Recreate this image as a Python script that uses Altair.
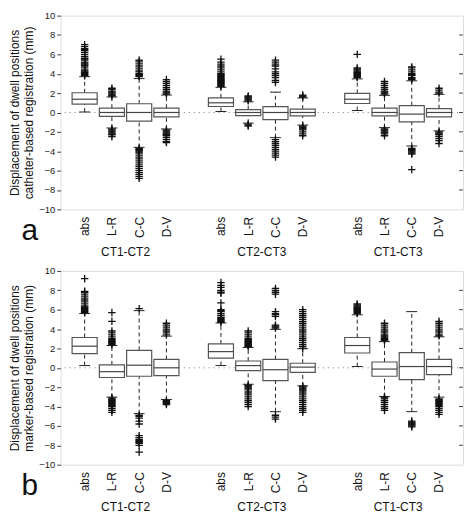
import altair as alt
import pandas as pd

# ---------------- data ----------------
positions = [1, 2, 3, 4, 6, 7, 8, 9, 11, 12, 13, 14]
box_labels = ["abs", "L-R", "C-C", "D-V"] * 3
groups = ["CT1-CT2", "CT2-CT3", "CT1-CT3"]
group_centers = [2.5, 7.5, 12.5]
y_ticks = [-10, -8, -6, -4, -2, 0, 2, 4, 6, 8, 10]

# panel a: catheter-based registration
a_q1 = [0.87, -0.40, -0.90, -0.45, 0.62, -0.33, -0.73, -0.35, 0.93, -0.35, -0.96, -0.46]
a_med = [1.37, 0.00, 0.00, 0.00, 1.00, 0.00, 0.00, 0.00, 1.37, 0.00, -0.17, 0.00]
a_q3 = [2.04, 0.45, 0.90, 0.45, 1.50, 0.30, 0.60, 0.35, 1.97, 0.45, 0.70, 0.40]
a_lo = [0.05, -1.60, -3.60, -1.70, 0.10, -1.10, -2.60, -1.30, 0.20, -1.56, -3.46, -1.90]
a_hi = [3.70, 1.60, 3.50, 1.80, 2.60, 1.10, 2.10, 1.50, 3.47, 1.77, 3.27, 1.87]
a_out = [
    [3.8, 3.9, 4.0, 4.1, 4.2, 4.3, 4.4, 4.6, 4.8, 4.9, 5.0, 5.1, 5.2, 5.4, 5.5, 5.6, 5.8, 6.0, 6.2, 6.4, 6.5, 6.6, 6.8, 7.0],
    [1.7, 1.8, 1.9, 2.0, 2.1, 2.2, 2.4, 2.5, -1.7, -1.8, -1.9, -2.0, -2.1, -2.2, -2.3, -2.5],
    [3.7, 3.8, 3.9, 4.0, 4.2, 4.3, 4.5, 4.7, 4.9, 5.1, 5.3, 5.4,
     -3.7, -3.8, -3.9, -4.0, -4.1, -4.2, -4.4, -4.6, -4.8, -5.0, -5.2, -5.4, -5.6, -5.8, -6.0, -6.2, -6.4, -6.6, -6.8],
    [1.9, 2.0, 2.1, 2.2, 2.4, 2.6, 2.8, 3.0, 3.2, 3.4, -1.8, -1.9, -2.0, -2.1, -2.2, -2.3, -2.4, -2.6, -2.8, -3.0, -3.1],
    [2.7, 2.8, 2.9, 3.0, 3.1, 3.2, 3.3, 3.4, 3.5, 3.6, 3.7, 3.8, 3.9, 4.0, 4.2, 4.4, 4.6, 4.8, 5.0, 5.2, 5.5],
    [1.2, 1.3, 1.4, 1.5, 1.6, 1.7, -1.2, -1.3, -1.4],
    [3.1, 3.3, 3.6, 3.8, 4.0, 4.2, 4.5, 4.8, 5.0, 5.2, 5.4, -2.8, -3.0, -3.2, -3.4, -3.6, -3.8, -4.0, -4.2, -4.4, -4.6],
    [1.6, 1.7, 1.8, -1.4, -1.5, -1.6, -1.7, -1.8, -2.0, -2.2, -2.4],
    [3.6, 3.7, 3.8, 3.9, 4.0, 4.1, 4.2, 4.3, 4.4, 4.5, 4.6, 6.0],
    [1.9, 2.0, 2.1, 2.2, 2.4, 2.6, 2.8, 3.0, 3.2, -1.7, -1.8, -1.9, -2.0, -2.1, -2.2, -2.4],
    [3.4, 3.5, 3.6, 3.8, 3.9, 4.0, 4.2, 4.4, 4.6, 4.7, -3.7, -3.8, -3.9, -4.0, -4.1, -4.2, -4.3, -5.9],
    [2.0, 2.1, 2.3, 2.5, -2.0, -2.1, -2.2, -2.3, -2.5, -2.7, -2.9, -3.2],
]

# panel b: marker-based registration
b_q1 = [1.47, -1.00, -0.87, -0.80, 1.00, -0.30, -1.33, -0.47, 1.53, -0.87, -1.23, -0.70]
b_med = [2.23, -0.40, 0.27, 0.00, 1.67, 0.23, -0.20, 0.07, 2.30, -0.13, 0.13, 0.13]
b_q3 = [3.13, 0.30, 1.80, 0.87, 2.47, 0.70, 0.87, 0.47, 3.13, 0.60, 1.57, 0.87]
b_lo = [0.23, -3.03, -4.73, -3.27, 0.23, -1.70, -4.53, -1.87, 0.13, -2.97, -4.53, -3.03]
b_hi = [5.60, 2.30, 5.90, 3.27, 4.63, 2.10, 3.97, 1.97, 5.47, 2.70, 5.80, 3.20]
b_out = [
    [5.7, 5.8, 5.9, 6.0, 6.1, 6.2, 6.3, 6.4, 6.6, 6.8, 7.0, 7.2, 7.4, 7.6, 7.8, 7.9, 9.2],
    [2.4, 2.5, 2.6, 2.7, 2.8, 2.9, 3.0, 3.2, 3.4, 3.6, 3.8, 4.8, 5.7,
     -3.1, -3.2, -3.3, -3.4, -3.5, -3.6, -3.7, -3.8, -3.9, -4.0, -4.2, -4.4, -4.6],
    [6.1, -4.9, -5.0, -5.2, -5.5, -5.8, -7.0, -7.2, -7.4, -7.5, -7.6, -7.7, -7.8, -8.0, -8.7],
    [3.4, 3.6, 3.8, 4.0, 4.2, 4.4, 4.6, -3.4, -3.5, -3.6, -3.7, -3.8],
    [4.7, 4.8, 4.9, 5.0, 5.1, 5.2, 5.4, 5.6, 5.8, 5.9, 6.0, 6.7, 7.7, 7.8, 8.0, 8.3, 8.5, 8.8],
    [2.2, 2.3, 2.4, 2.5, 2.6, 2.7, 2.8, 2.9, 3.0, 3.2, 3.4, 3.6, 3.8,
     -1.8, -1.9, -2.0, -2.1, -2.2, -2.4, -2.6, -2.8, -3.0, -3.2, -3.4, -3.6, -3.8, -4.0],
    [4.1, 4.2, 4.3, 4.4, 5.3, 5.5, 5.6, 5.8, 7.6, 7.8, 8.0, 8.2, -4.9, -5.1, -5.3],
    [2.0, 2.2, 2.4, 2.6, 2.8, 3.0, 3.2, 3.4, 3.6, 3.8, 4.0, 4.2, 4.4, 4.6, 4.8, 5.0, 5.2, 5.4, 5.6, 5.8, 6.0,
     -1.9, -2.0, -2.1, -2.2, -2.3, -2.4, -2.6, -2.8, -3.0, -3.2, -3.4, -3.6, -3.8, -4.0, -4.2, -4.4, -4.6],
    [5.6, 5.7, 5.8, 5.9, 6.0, 6.1, 6.2, 6.3, 6.4, 6.5, 6.6],
    [2.8, 2.9, 3.0, 3.1, 3.2, 3.3, 3.4, 3.6, 3.8, 4.0, 4.2, 4.4, 4.6,
     -3.0, -3.1, -3.2, -3.4, -3.6, -3.8, -4.0, -4.2, -4.4],
    [-5.5, -5.6, -5.7, -5.8, -5.9, -6.0, -6.1],
    [3.3, 3.4, 3.6, 3.8, 4.0, 4.2, 4.4, 4.6, 4.8,
     -3.2, -3.3, -3.4, -3.5, -3.6, -3.7, -3.8, -3.9, -4.0, -4.2, -4.4, -4.6, -4.8],
]

# ---------------- chart ----------------
W, H = 405, 195
FONT = "Liberation Sans"
BOXW = 0.46
CAPW = 0.20

label_expr = "{" + ",".join(f"'{p}':'{l}'" for p, l in zip(positions, box_labels)) + "}[datum.value]"
xscale = alt.Scale(domain=[0.12, 14.88], nice=False, zero=False)
yscale = alt.Scale(domain=[-10, 10], nice=False, zero=False)


def panel(q1, med, q3, lo, hi, outs, title_lines, letter):
    stats = pd.DataFrame({"pos": positions, "q1": q1, "med": med, "q3": q3, "lo": lo, "hi": hi})
    rows = []
    for p, vals in zip(positions, outs):
        for v in vals:
            rows.append({"pos": p, "v": v})
    outdf = pd.DataFrame(rows)

    base = alt.Chart(stats).transform_calculate(
        xl=f"datum.pos - {BOXW}", xr=f"datum.pos + {BOXW}",
        cl=f"datum.pos - {CAPW}", cr=f"datum.pos + {CAPW}",
    )

    xaxis = alt.Axis(values=positions, labelExpr=label_expr, labelAngle=-90, ticks=False,
                     domain=False, grid=False, labelPadding=7, labelFontSize=12,
                     labelColor="#111", labelFont=FONT, labelOverlap=False, labelFlush=False,
                     title=None)
    yaxis = alt.Axis(values=y_ticks, grid=False, domain=False, tickSize=4, tickColor="#444",
                     labelFontSize=9.5, labelColor="#222", labelFont=FONT, labelPadding=2,
                     labelOverlap=False, labelFlush=False,
                     title=title_lines, titleFont=FONT, titleFontSize=12,
                     titleFontWeight="normal", titleColor="#111", titlePadding=3)

    X = lambda f: alt.X(f, scale=xscale, axis=xaxis)
    Y = lambda f: alt.Y(f, scale=yscale, axis=yaxis)

    zero = alt.Chart(pd.DataFrame({"z": [0]})).mark_rule(
        color="#777", strokeDash=[1, 4], strokeWidth=1
    ).encode(y=Y("z:Q"))

    right_ticks = alt.Chart(pd.DataFrame({"t": y_ticks[1:-1]})).mark_rule(
        color="#444", strokeWidth=1
    ).encode(y=Y("t:Q"), x=alt.value(W - 4), x2=alt.value(W))

    whisk_hi = base.mark_rule(color="#222", strokeDash=[4, 3], strokeWidth=1).encode(
        x=X("pos:Q"), y=Y("q3:Q"), y2="hi:Q")
    whisk_lo = base.mark_rule(color="#222", strokeDash=[4, 3], strokeWidth=1).encode(
        x=X("pos:Q"), y=Y("lo:Q"), y2="q1:Q")
    cap_hi = base.mark_rule(color="#222", strokeWidth=1).encode(
        x=X("cl:Q"), x2="cr:Q", y=Y("hi:Q"))
    cap_lo = base.mark_rule(color="#222", strokeWidth=1).encode(
        x=X("cl:Q"), x2="cr:Q", y=Y("lo:Q"))
    box = base.mark_rect(fill="white", stroke="#555", strokeWidth=1.2).encode(
        x=X("xl:Q"), x2="xr:Q", y=Y("q1:Q"), y2="q3:Q")
    median = base.mark_rule(color="#444", strokeWidth=1.2).encode(
        x=X("xl:Q"), x2="xr:Q", y=Y("med:Q"))

    pts = alt.Chart(outdf).mark_point(
        shape="M-1,0L1,0M0,-1L0,1", filled=False, color="#111", strokeWidth=1.3, size=56, opacity=1
    ).encode(x=X("pos:Q"), y=Y("v:Q"))

    grp = alt.Chart(pd.DataFrame({"g": groups, "c": group_centers})).mark_text(
        font=FONT, fontSize=12, color="#111", baseline="middle"
    ).encode(x=X("c:Q"), y=alt.value(H + 43), text="g:N")

    let = alt.Chart(pd.DataFrame({"l": [letter]})).mark_text(
        font=FONT, fontSize=30, color="#111", baseline="alphabetic", align="center"
    ).encode(x=alt.value(-31), y=alt.value(H + 31), text="l:N")

    return alt.layer(zero, right_ticks, whisk_hi, whisk_lo, cap_hi, cap_lo, box, median,
                     pts, grp, let).properties(width=W, height=H)


pa = panel(a_q1, a_med, a_q3, a_lo, a_hi, a_out,
           ["Displacement of dwell positions", "catheter-based registration (mm)"], "a")
pb = panel(b_q1, b_med, b_q3, b_lo, b_hi, b_out,
           ["Displacement of dwell positions", "marker-based registration (mm)"], "b")

chart = alt.vconcat(pa, pb, spacing=6).properties(padding=0).configure_view(
    stroke="#555", strokeWidth=1.2
).configure_axis(labelOverlap=False, labelFlush=False).configure(background="white")

chart.save("out.html", embed_options={"renderer": "svg", "actions": False})
